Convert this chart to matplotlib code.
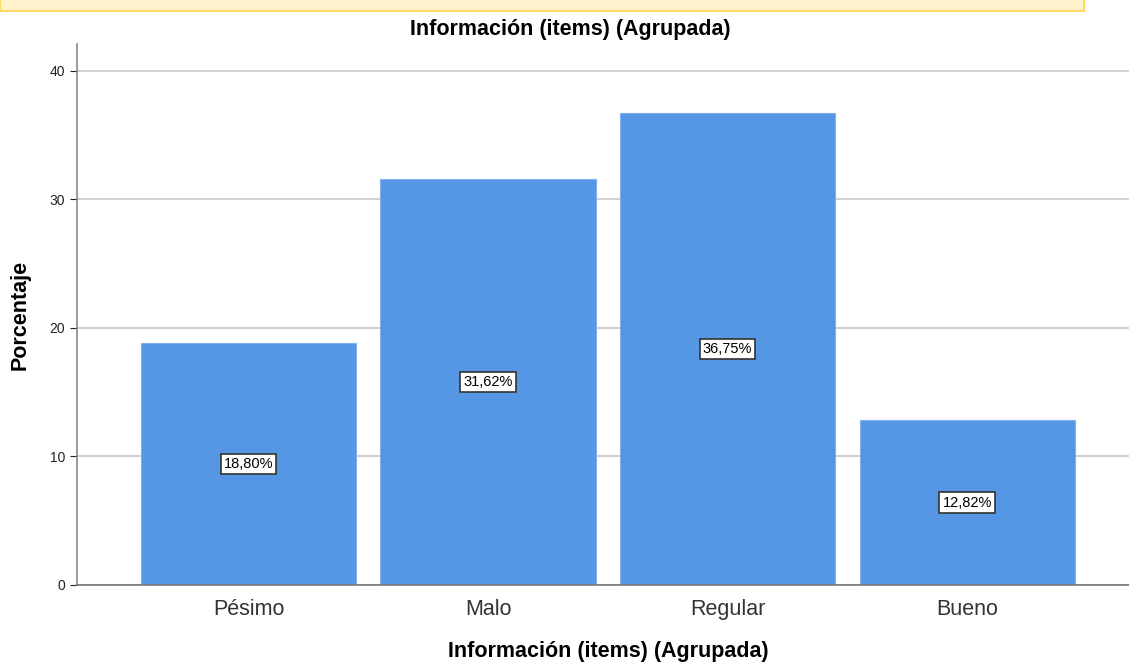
import numpy as np
import matplotlib as mpl
mpl.use('Agg')
import matplotlib.pyplot as plt
from matplotlib.patches import Rectangle

plt.rcParams['font.family'] = ['Liberation Sans', 'DejaVu Sans']

categorias = ['Pésimo', 'Malo', 'Regular', 'Bueno']
porcentajes = [18.80, 31.62, 36.75, 12.82]
etiquetas = ['18,80%', '31,62%', '36,75%', '12,82%']
yticks = [0, 10, 20, 30, 40]

titulo = 'Información (items) (Agrupada)'
color_barra = '#5596E5'

fig = plt.figure(figsize=(11.29, 6.63), dpi=100)

# banda amarilla recortada arriba
fig.patches.append(Rectangle((-0.01, 663 - 11), 1084, 20, transform=None,
                             facecolor='#FFF2CC', edgecolor='#FFD966', lw=1.5))

ax = fig.add_axes([77 / 1129, 78 / 663, 1 - 77 / 1129, (585 - 44) / 663])

x = np.arange(len(categorias))
ax.bar(x, porcentajes, width=0.898, color=color_barra, edgecolor='#7FB0EE',
       linewidth=0.8, zorder=2)

for xi, v, lab in zip(x, porcentajes, etiquetas):
    ax.text(xi, v / 2, lab, ha='center', va='center', fontsize=10.5, color='black',
            bbox=dict(boxstyle='square,pad=0.22', facecolor='white',
                      edgecolor='#333333', linewidth=1.2), zorder=3)

ax.set_xlim(-0.716, 3.676)
ax.set_ylim(0, 42.1)
ax.set_yticks(yticks)
ax.set_xticks(x)
ax.set_xticklabels(categorias, fontsize=15.5, color='#333333')
ax.tick_params(axis='y', labelsize=10, colors='#222222', length=5, width=0.8)
ax.tick_params(axis='x', length=0, pad=10)
ax.yaxis.grid(True, color='#C8C8C8', linewidth=1.2, zorder=0)
ax.set_axisbelow(True)

for s in ['top', 'right']:
    ax.spines[s].set_visible(False)
ax.spines['left'].set_color('#888888')
ax.spines['bottom'].set_color('#777777')
ax.spines['left'].set_linewidth(1.2)
ax.spines['bottom'].set_linewidth(1.2)

ax.set_ylabel('Porcentaje', fontsize=15.5, fontweight='bold', va='center')
ax.yaxis.set_label_coords((20 - 77) / 1052, 0.5)
ax.set_xlabel(titulo, fontsize=15.5, fontweight='bold', va='center')
ax.xaxis.set_label_coords((608 - 77) / 1052, (585 - 652) / 541)
fig.text(570 / 1129, 1 - 29 / 663, titulo, ha='center', va='center',
         fontsize=15.5, fontweight='bold')

plt.savefig('out.png', dpi=100)
